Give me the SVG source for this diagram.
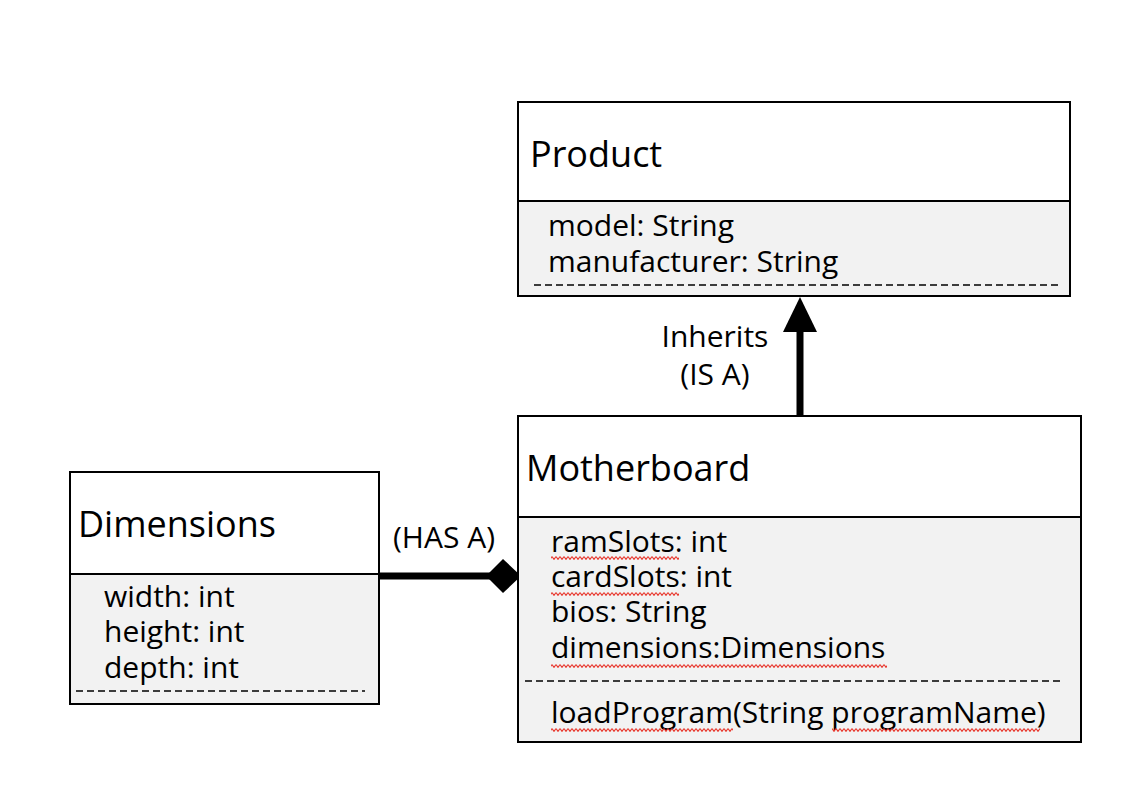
<svg xmlns="http://www.w3.org/2000/svg" width="1134" height="806" viewBox="0 0 1134 806">
<style>
.box{fill:#fff;stroke:#000;stroke-width:2}
.sec{fill:#f2f2f2;stroke:#000;stroke-width:2}
.dash{stroke:#000;stroke-width:1.4;stroke-dasharray:7 4;fill:none}
.title{font-family:"Open Sans","Noto Sans",sans-serif;font-size:36px;fill:#000}
.attr{font-family:"Open Sans","Noto Sans",sans-serif;font-size:30px;fill:#000}
.lbl{font-family:"Open Sans","Noto Sans",sans-serif;font-size:30px;fill:#000;text-anchor:middle}
.squig{fill:url(#zz);stroke:none}
</style>
<defs>
<pattern id="zz" width="4" height="4" patternUnits="userSpaceOnUse">
<path d="M0,0.6 L2,3.4 L4,0.6" fill="none" stroke="#e8392f" stroke-width="1.1"/>
</pattern>
</defs>
<rect width="1134" height="806" fill="#fff"/>
<g id="connectors">
<line x1="379" y1="576" x2="492" y2="576" stroke="#000" stroke-width="7"/>
<polygon points="486,576 503,559 521,576 503,593" fill="#000"/>
<line x1="800" y1="416" x2="800" y2="328" stroke="#000" stroke-width="7"/>
<polygon points="800,297 817,332 783,332" fill="#000"/>
<text class="lbl" x="444" y="548">(HAS A)</text>
<text class="lbl" x="715" y="347">Inherits</text>
<text class="lbl" x="715" y="385">(IS A)</text>
</g>
<g id="product">
<rect class="box" x="518" y="102" width="552" height="99"/>
<rect class="sec" x="518" y="201" width="552" height="95"/>
<text class="title" x="530" y="167">Product</text>
<text class="attr" x="548" y="236">model: String</text>
<text class="attr" x="548" y="272">manufacturer: String</text>
<line class="dash" x1="534" y1="285" x2="1058" y2="285"/>
</g>
<g id="motherboard">
<rect class="box" x="518" y="416" width="563" height="101"/>
<rect class="sec" x="518" y="517" width="563" height="225"/>
<text class="title" x="526" y="481">Motherboard</text>
<text class="attr" x="551" y="552">ramSlots: int</text>
<text class="attr" x="551" y="587">cardSlots: int</text>
<text class="attr" x="551" y="622">bios: String</text>
<text class="attr" x="551" y="658">dimensions:Dimensions</text>
<line class="dash" x1="525" y1="681" x2="1063" y2="681"/>
<text class="attr" x="551" y="723">loadProgram(String programName)</text>
</g>
<g id="dimensions">
<rect class="box" x="70" y="472" width="309" height="102"/>
<rect class="sec" x="70" y="574" width="309" height="130"/>
<text class="title" x="78" y="537">Dimensions</text>
<text class="attr" x="104" y="607">width: int</text>
<text class="attr" x="104" y="642">height: int</text>
<text class="attr" x="104" y="678">depth: int</text>
<line class="dash" x1="76" y1="691" x2="365" y2="691"/>
</g>
<g id="squiggles">
<rect class="squig" x="551" y="556" width="128" height="4"/>
<rect class="squig" x="551" y="592" width="128" height="4"/>
<rect class="squig" x="551" y="664" width="336" height="4"/>
<rect class="squig" x="551" y="728" width="182" height="4"/>
<rect class="squig" x="832" y="728" width="208" height="4"/>
</g>
</svg>
